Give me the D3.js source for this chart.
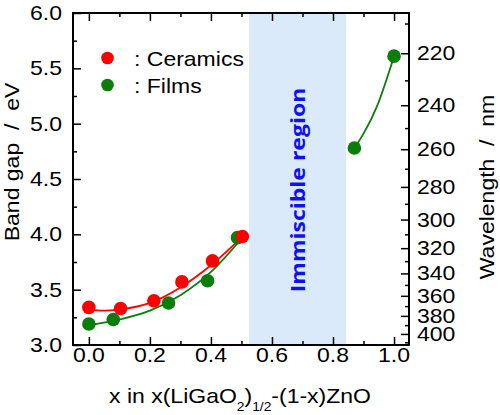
<!DOCTYPE html>
<html>
<head>
<meta charset="utf-8">
<script src="https://cdn.jsdelivr.net/npm/d3@7"></script>
<style>
  body { margin: 0; background: #fff; }
  text { font-family: "Liberation Sans", Arial, sans-serif; fill: #000; white-space: pre; }
</style>
</head>
<body>
<div id="chart"></div>
<script>
var svgWidth = 500;
var svgHeight = 415;

// data
var ceramicsX = [0.0, 0.104, 0.213, 0.305, 0.405, 0.503];
var ceramicsE = [3.34, 3.33, 3.40, 3.57, 3.76, 3.98];
var filmsX = [0.0, 0.08, 0.261, 0.389, 0.487, 0.87, 1.0];
var filmsE = [3.19, 3.23, 3.38, 3.58, 3.97, 4.78, 5.61];

// fitted curves (traced)
var ceramicsFitX = [0.0, 0.05, 0.1, 0.2, 0.3, 0.4, 0.5];
var ceramicsFitE = [3.32, 3.31, 3.32, 3.38, 3.52, 3.72, 3.97];
var filmsFitX = [0.0, 0.1, 0.2, 0.3, 0.4, 0.5];
var filmsFitE = [3.18, 3.23, 3.31, 3.45, 3.66, 3.96];
var filmsFit2X = [0.87, 0.9, 0.943, 1.0];
var filmsFit2E = [4.78, 4.91, 5.15, 5.61];

var immiscible = [0.525, 0.843];

var xTicks = [0.0, 0.2, 0.4, 0.6, 0.8, 1.0];
var xMinor = [0.1, 0.3, 0.5, 0.7, 0.9];
var yTicks = [3.0, 3.5, 4.0, 4.5, 5.0, 5.5, 6.0];
var yMinor = [3.25, 3.75, 4.25, 4.75, 5.25, 5.75];
var nmTicks = [220, 240, 260, 280, 300, 320, 340, 360, 380, 400];
var nmMinor = [210, 230, 250, 270, 290, 310, 330, 350, 370, 390, 410];

var margin = { top: 13, right: 91, bottom: 70, left: 73 };
var width = svgWidth - margin.left - margin.right;
var height = svgHeight - margin.top - margin.bottom;

// the lettering in the original is a bit wider than Arial
var stretch = 1.15;

var svg = d3.select('#chart').append('svg')
    .attr('width', svgWidth)
    .attr('height', svgHeight);

var g = svg.append('g')
    .attr('transform', `translate(${margin.left}, ${margin.top})`);

var xScale = d3.scaleLinear().domain([-0.052, 1.049]).range([0, width]);
var yScale = d3.scaleLinear().domain([3.0, 6.0]).range([height, 0]);
var nmToE = nm => 1240 / nm;

function label(parent, x, y, str, anchor, rot, size) {
    return parent.append('text')
        .attr('transform', `translate(${x}, ${y}) rotate(${rot || 0}) scale(${stretch}, 1)`)
        .attr('text-anchor', anchor || 'start')
        .style('font-size', (size || 20) + 'px')
        .text(str);
}

// immiscible band
g.append('rect')
    .attr('x', xScale(immiscible[0]))
    .attr('y', 0)
    .attr('width', xScale(immiscible[1]) - xScale(immiscible[0]))
    .attr('height', height)
    .attr('fill', '#dbeafa');

label(g, xScale(0.843) - 41 - margin.left + margin.left, 190 - margin.top, 'Immiscible region', 'middle', -90, 20)
    .style('font-family', '"Open Sans", sans-serif')
    .style('font-weight', 'bold')
    .style('fill', '#1010f0');

// axes
function tickAxis(axis, ticks, size) {
    return axis.tickValues(ticks).tickSize(size).tickFormat('');
}

var bottomAxis = g.append('g').attr('transform', `translate(0, ${height})`);
bottomAxis.call(tickAxis(d3.axisTop(xScale), xTicks, 8));
bottomAxis.append('g').call(tickAxis(d3.axisTop(xScale), xMinor, 4));

var topAxis = g.append('g');
topAxis.call(tickAxis(d3.axisBottom(xScale), xTicks, 8));
topAxis.append('g').call(tickAxis(d3.axisBottom(xScale), xMinor, 4));

var leftAxis = g.append('g');
leftAxis.call(tickAxis(d3.axisRight(yScale), yTicks, 8));
leftAxis.append('g').call(tickAxis(d3.axisRight(yScale), yMinor, 4));

var rightAxis = g.append('g').attr('transform', `translate(${width}, 0)`);
rightAxis.call(tickAxis(d3.axisLeft(yScale), nmTicks.map(nmToE), 8));
rightAxis.append('g').call(tickAxis(d3.axisLeft(yScale), nmMinor.map(nmToE), 4));

g.selectAll('.domain').remove();
g.selectAll('.tick line').attr('stroke', '#000').attr('stroke-width', 1.5);

g.append('rect')
    .attr('width', width).attr('height', height)
    .attr('fill', 'none').attr('stroke', '#000').attr('stroke-width', 2);

// tick labels
xTicks.forEach(d => label(g, xScale(d), height + 17, d.toFixed(1), 'middle'));
yTicks.forEach(d => label(g, -11, yScale(d) + 7, d.toFixed(1), 'end'));
nmTicks.forEach(d => label(g, width + 8, yScale(nmToE(d)) + 7, String(d), 'start'));

// axis titles
label(svg, 19, 162, 'Band gap  /  eV', 'middle', -90);
label(svg, 494, 187, 'Wavelength  /  nm', 'middle', -90);

var xt = label(svg, 240, 403, '', 'middle');
xt.append('tspan').text('x in x(LiGaO');
xt.append('tspan').attr('dy', 8).style('font-size', '12px').text('2');
xt.append('tspan').attr('dy', -8).text(')');
xt.append('tspan').attr('dy', 8).style('font-size', '12px').text('1/2');
xt.append('tspan').attr('dy', -8).text('-(1-x)ZnO');

// fit curves
var line = d3.line()
    .x(d => xScale(d[0]))
    .y(d => yScale(d[1]))
    .curve(d3.curveMonotoneX);

var fits = [
    { xs: filmsFitX, es: filmsFitE, color: '#0b7d0b' },
    { xs: filmsFit2X, es: filmsFit2E, color: '#0b7d0b' },
    { xs: ceramicsFitX, es: ceramicsFitE, color: '#ff0000' }
];
fits.forEach(function(f) {
    g.append('path')
        .datum(d3.zip(f.xs, f.es))
        .attr('d', line)
        .attr('fill', 'none')
        .attr('stroke', f.color)
        .attr('stroke-width', 1.8);
});

// points
g.selectAll('.film').data(d3.zip(filmsX, filmsE)).enter().append('circle')
    .attr('cx', d => xScale(d[0]))
    .attr('cy', d => yScale(d[1]))
    .attr('r', 6.8)
    .attr('fill', '#0b7d0b');

g.selectAll('.cer').data(d3.zip(ceramicsX, ceramicsE)).enter().append('circle')
    .attr('cx', d => xScale(d[0]))
    .attr('cy', d => yScale(d[1]))
    .attr('r', 6.8)
    .attr('fill', '#ff0000');

// legend
var legend = [
    { label: ': Ceramics', color: '#ff0000' },
    { label: ': Films', color: '#0b7d0b' }
];
legend.forEach(function(l, i) {
    svg.append('circle')
        .attr('cx', 107.5).attr('cy', 58 + i * 27)
        .attr('r', 6.3).attr('fill', l.color);
    label(svg, 134, 66 + i * 27, l.label, 'start');
});
</script>
</body>
</html>
